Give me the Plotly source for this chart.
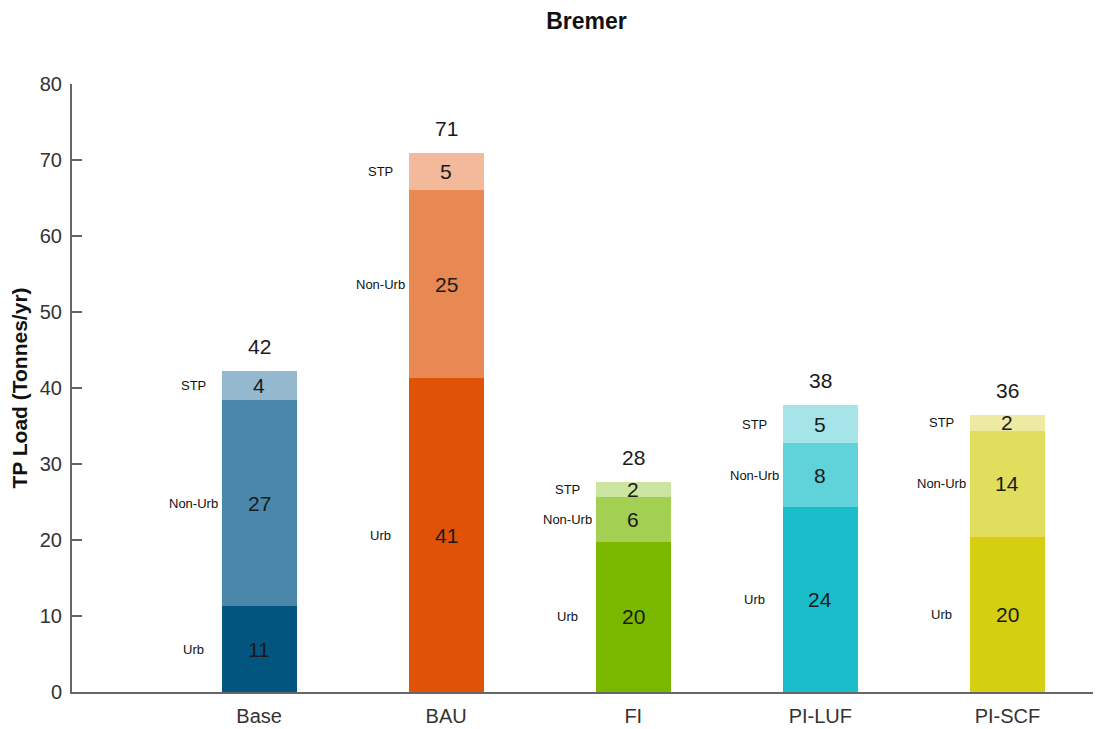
import plotly.graph_objects as go

# TP load per scenario (Tonnes/yr)
scenarios = ['Base', 'BAU', 'FI', 'PI-LUF', 'PI-SCF']
sources = ['Urb', 'Non-Urb', 'STP']
urb = [11.3, 41.3, 19.8, 24.4, 20.4]
non_urb = [27.1, 24.7, 5.8, 8.3, 14.0]
stp = [3.9, 4.9, 2.0, 5.0, 2.0]

# colour per scenario: dark / mid / light for Urb / Non-Urb / STP
colors_urb = ['#02557f', '#e05206', '#7ab800', '#1cbdcb', '#d5cf12']
colors_non = ['#4a87ab', '#e88853', '#a3cf52', '#5fd2da', '#e2de5d']
colors_stp = ['#94b9cf', '#f2b99a', '#cbe4a0', '#a5e5ea', '#eeeaa4']

font_name = 'Liberation Sans, Arial, sans-serif'
xs = list(range(len(scenarios)))

fig = go.Figure()
for name, vals, cols in [('Urb', urb, colors_urb),
                         ('Non-Urb', non_urb, colors_non),
                         ('STP', stp, colors_stp)]:
    fig.add_trace(go.Bar(
        x=xs, y=vals, name=name,
        marker=dict(color=cols, line_width=0),
        width=0.4,
        hoverinfo='skip',
    ))

annotations = []
for i in xs:
    base = 0
    for name, vals in zip(sources, [urb, non_urb, stp]):
        mid = base + vals[i] / 2
        # value inside segment
        annotations.append(dict(x=i, y=mid, text=f'{round(vals[i])}', showarrow=False,
                                font=dict(size=21, color='#1a1a1a', family=font_name)))
        # source name to the left of the bar
        annotations.append(dict(x=i - 0.35, y=mid, text=name, showarrow=False,
                                font=dict(size=13, color='#111', family=font_name)))
        base += vals[i]
    annotations.append(dict(x=i, y=base, text=f'{round(base)}', showarrow=False,
                            yanchor='bottom', yshift=11,
                            font=dict(size=21, color='#1a1a1a', family=font_name)))

# page body adds an 8px offset, so the figure is sized 8px smaller
fig.update_layout(
    barmode='stack',
    width=1093, height=721,
    margin=dict(l=64, r=0, t=76, b=37),
    paper_bgcolor='white', plot_bgcolor='white',
    showlegend=False,
    title=dict(text='<b>Bremer</b>', xref='paper', x=0.5, xanchor='center',
               yref='container', y=0.982, yanchor='middle',
               font=dict(size=23, color='#111', family=font_name)),
    font=dict(family=font_name, color='#333'),
    annotations=annotations,
    xaxis=dict(range=[-1, 4.5], tickvals=xs, ticktext=scenarios,
               showline=True, linecolor='#666', linewidth=2,
               ticks='', showgrid=False, zeroline=False, ticklabelstandoff=5,
               tickfont=dict(size=20, color='#333'), automargin=False),
    yaxis=dict(range=[0, 80], dtick=10, showline=True, linecolor='#666', linewidth=2,
               ticks='inside', ticklen=10, tickcolor='#666', tickwidth=1.5,
               showgrid=False, zeroline=False, ticklabelstandoff=4,
               tickfont=dict(size=20, color='#333'), automargin=False,
               title=dict(text='<b>TP Load (Tonnes/yr)</b>', standoff=6,
                          font=dict(size=21, color='#111'))),
)

fig.write_html('out.html')
